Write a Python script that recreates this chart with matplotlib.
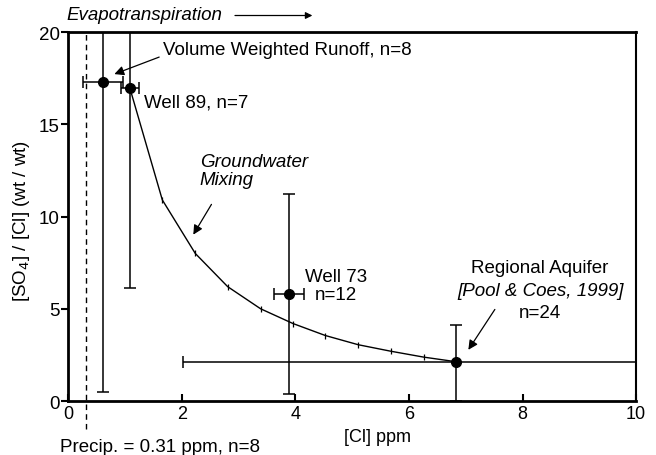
import matplotlib.pyplot as plt
import numpy as np

plt.rcParams['font.family'] = ['Liberation Sans', 'DejaVu Sans']

# samples: Cl (ppm), SO4/Cl ratio, error bars
names = ['Volume Weighted Runoff', 'Well 89', 'Well 73', 'Regional Aquifer']
cl = np.array([0.62, 1.09, 3.89, 6.83])
ratio = np.array([17.3, 16.95, 5.8, 2.13])
cl_lo = np.array([0.27, 0.93, 3.63, 2.03])
cl_hi = np.array([0.96, 1.25, 4.15, 12.0])
ratio_lo = np.array([0.5, 6.15, 0.4, 0.0])
ratio_hi = np.array([30.0, 30.0, 11.25, 4.13])

# groundwater mixing line (10% steps)
mix_cl = [1.09, 1.66, 2.24, 2.81, 3.39, 3.96, 4.53, 5.11, 5.68, 6.26, 6.83]
mix_ratio = [16.95, 10.9, 8.0, 6.2, 5.0, 4.2, 3.55, 3.05, 2.7, 2.38, 2.13]

precip_cl = 0.31

fig = plt.figure(figsize=(6.56, 4.56), dpi=100)
ax = fig.add_axes([0.1037, 0.1184, 0.866, 0.809])

ax.plot(mix_cl, mix_ratio, color='black', lw=1.0, marker='|', ms=5, mew=0.9)

for i in range(len(cl)):
    ax.errorbar(cl[i], ratio[i],
                xerr=[[cl[i] - cl_lo[i]], [cl_hi[i] - cl[i]]],
                yerr=[[ratio[i] - ratio_lo[i]], [ratio_hi[i] - ratio[i]]],
                fmt='o', color='black', ms=7, elinewidth=1.1, capsize=4,
                capthick=1.1, zorder=3)

ax.axvline(precip_cl, ymin=-0.076, ymax=1, color='black', ls=(0, (4, 3)),
           lw=1.0, clip_on=False)

ax.set_xlim(0, 10)
ax.set_ylim(0, 20)
ax.set_xticks([0, 2, 4, 6, 8, 10])
ax.set_yticks([0, 5, 10, 15, 20])
ax.tick_params(axis='x', direction='in', length=5, width=1.5, labelsize=13, pad=3)
ax.tick_params(axis='y', direction='out', length=5, width=1.5, labelsize=13.5, pad=1)
for s in ['left', 'bottom', 'top']:
    ax.spines[s].set_linewidth(2.0)
ax.spines['right'].set_linewidth(1.5)

ax.set_xlabel('[Cl] ppm', fontsize=13)
ax.xaxis.set_label_coords(0.544, -0.072)
ax.set_ylabel('[SO$_4$] / [Cl] (wt / wt)', fontsize=13.5)
ax.yaxis.set_label_coords(-0.063, 0.49)

fs = 13.5
ax.text(-0.02, 20.98, 'Evapotranspiration', style='italic', fontsize=fs,
        va='center', ha='left', clip_on=False)
ax.annotate('', xy=(4.35, 20.9), xytext=(2.89, 20.9), annotation_clip=False,
            arrowprops=dict(arrowstyle='-|>', color='black', lw=0.9,
                            mutation_scale=10))

ax.text(1.67, 19.08, 'Volume Weighted Runoff, n=8', fontsize=fs, va='center')
ax.annotate('', xy=(0.77, 17.67), xytext=(1.65, 18.7),
            arrowprops=dict(arrowstyle='-|>', color='black', lw=0.9,
                            mutation_scale=14))

ax.text(1.34, 16.2, 'Well 89, n=7', fontsize=fs, va='center')

ax.text(2.32, 12.5, 'Groundwater\nMixing', style='italic', fontsize=fs,
        va='center', ha='left', linespacing=1.05)
ax.annotate('', xy=(2.18, 8.89), xytext=(2.55, 10.79),
            arrowprops=dict(arrowstyle='-|>', color='black', lw=0.9,
                            mutation_scale=14))

ax.text(4.71, 6.26, 'Well 73\nn=12', fontsize=fs, va='center', ha='center',
        linespacing=1.05)

ax.text(8.31, 7.25, 'Regional Aquifer', fontsize=fs, va='center', ha='center')
ax.text(8.31, 5.98, '[Pool & Coes, 1999]', fontsize=fs, va='center',
        ha='center', style='italic')
ax.text(8.31, 4.8, 'n=24', fontsize=fs, va='center', ha='center')
ax.annotate('', xy=(7.02, 2.65), xytext=(7.54, 5.09),
            arrowprops=dict(arrowstyle='-|>', color='black', lw=0.9,
                            mutation_scale=14))

ax.text(-0.14, -2.44, 'Precip. = 0.31 ppm, n=8', fontsize=fs, va='center',
        ha='left', clip_on=False)

fig.savefig('out.png', dpi=100)
